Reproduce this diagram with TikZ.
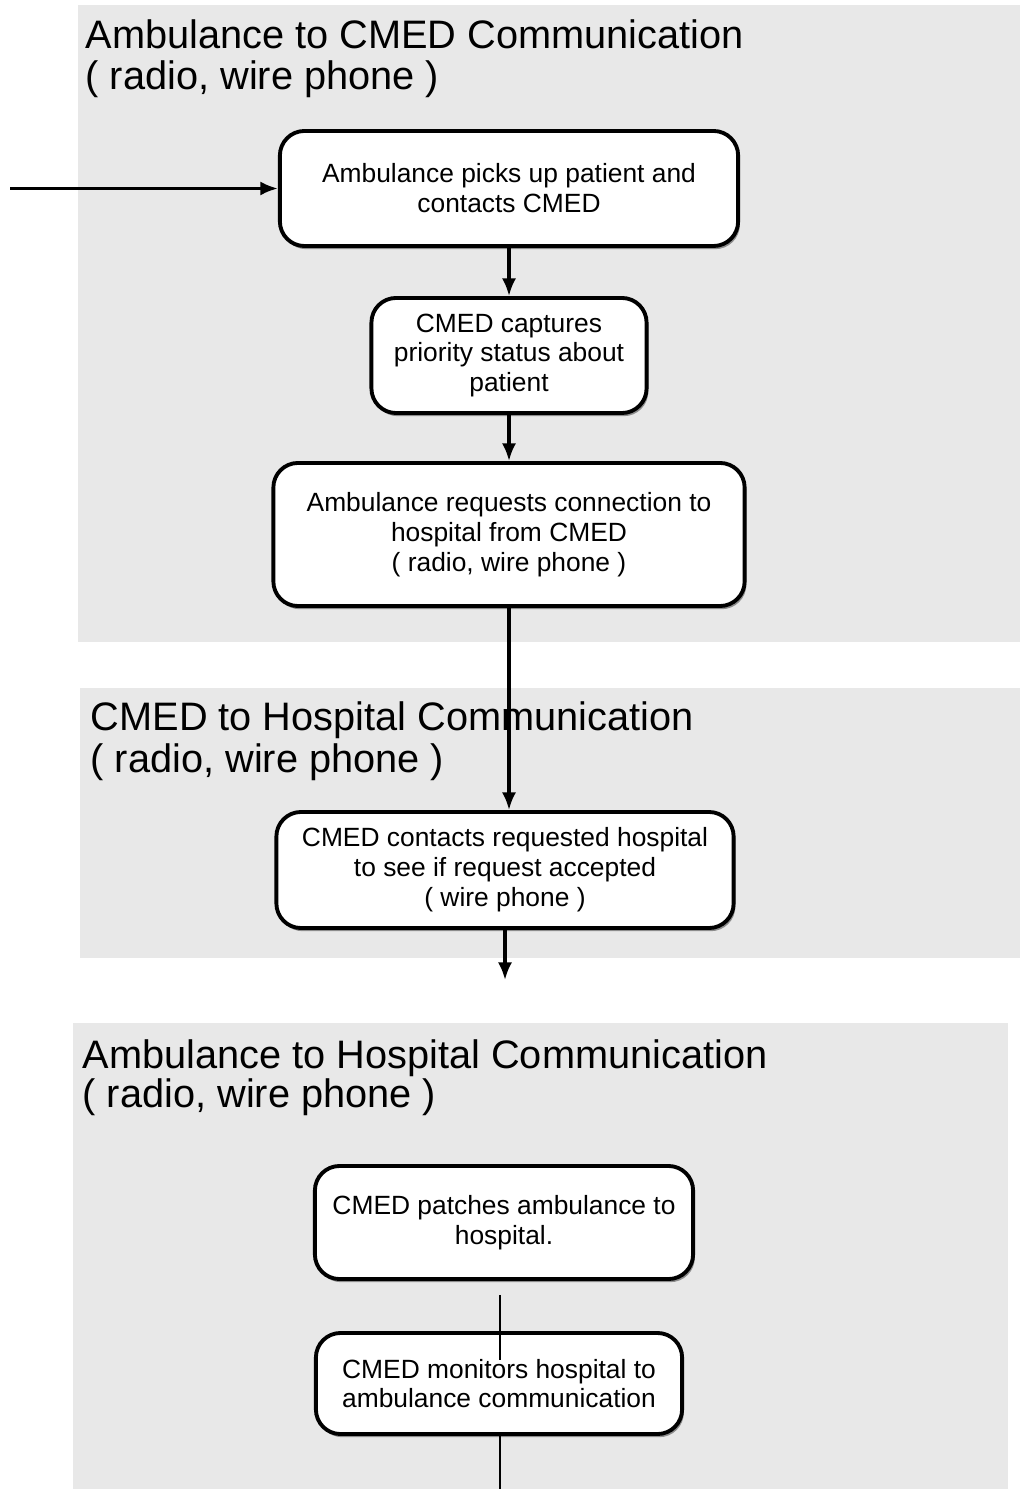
\documentclass[tikz,border=0pt]{standalone}
\usepackage{fontspec}
\setmainfont{Liberation Sans}
\usetikzlibrary{arrows.meta,shadows,calc}
\definecolor{panelgray}{HTML}{E8E8E8}
\begin{document}
\begin{tikzpicture}[x=0.01cm,y=-0.01cm,
  panel/.style={fill=panelgray, draw=none},
  titletext/.style={anchor=base west, inner sep=0pt, font=\fontsize{11.3}{13}\selectfont},
  stepbox/.style={draw=black, line width=1.1pt, fill=white, rounded corners=7pt,
    align=center, font=\fontsize{7.5}{8.5}\selectfont, inner sep=2pt,
    drop shadow={shadow xshift=0.5pt, shadow yshift=-0.9pt, fill=black!60, opacity=0.7}},
  flow/.style={line width=0.9pt, -{Latex[length=5pt,width=4pt]}},
  plainline/.style={line width=0.8pt}]
% canvas
\path[fill=white, use as bounding box] (0,0) rectangle (1020,1489);
% panels
\fill[panel] (78,5) rectangle (1020,642);
\fill[panel] (80,688) rectangle (1020,958);
\fill[panel] (73,1023) rectangle (1008,1489);
% titles
\node[titletext] (t1a) at (85,49) {Ambulance to CMED Communication};
\node[titletext] (t1b) at (85,90) {( radio, wire phone )};
\node[titletext] (t2a) at (90,730) {CMED to Hospital Communication};
\node[titletext] (t2b) at (90,772) {( radio, wire phone )};
\node[titletext] (t3a) at (82,1068) {Ambulance to Hospital Communication};
\node[titletext] (t3b) at (82,1107) {( radio, wire phone )};
% boxes
\node[stepbox, minimum width=4.58cm, minimum height=1.15cm] (b1) at (509,188.5)
  {Ambulance picks up patient and\\contacts CMED};
\node[stepbox, minimum width=2.75cm, minimum height=1.15cm] (b2) at (509,355.5)
  {CMED captures\\priority status about\\patient};
\node[stepbox, minimum width=4.71cm, minimum height=1.43cm] (b3) at (509,534.5)
  {Ambulance requests connection to\\hospital from CMED\\( radio, wire phone )};
\node[stepbox, minimum width=4.57cm, minimum height=1.16cm] (b4) at (505,870)
  {CMED contacts requested hospital\\to see if request accepted\\( wire phone )};
\node[stepbox, minimum width=3.78cm, minimum height=1.13cm] (b5) at (504,1222.5)
  {CMED patches ambulance to\\hospital.};
\node[stepbox, minimum width=3.66cm, minimum height=1.01cm] (b6) at (499,1383.5)
  {CMED monitors hospital to\\ambulance communication};
% free ends
\coordinate (in0) at (10,188.5);
\coordinate (out4) at (505,980);
\coordinate (out6) at (500,1489);
% connectors
\draw[flow] (in0) -- (b1.west);
\draw[flow] (b1.south) -- (b2.north);
\draw[flow] (b2.south) -- (b3.north);
\draw[flow] (b3.south) -- (b3.south |- b4.north);
\draw[flow] (b4.south) -- (out4);
\draw[plainline] ($(b5.south)+(-4,14)$) -- ($(b6.north)+(1,29)$);
\draw[plainline] ($(b6.south)+(1,0)$) -- (out6);
\end{tikzpicture}
\end{document}
